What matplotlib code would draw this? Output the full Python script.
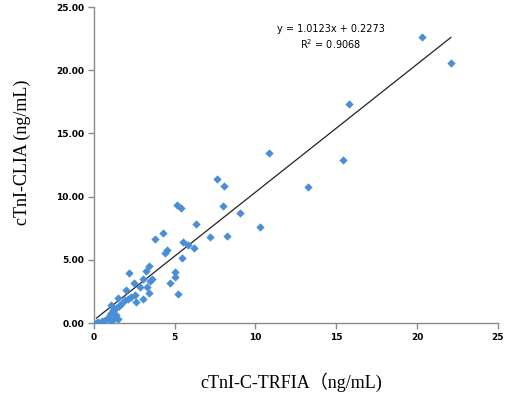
import matplotlib
matplotlib.use("Agg")
import matplotlib.pyplot as plt
import numpy as np

# cTnI values (ng/mL)
trfia = [10.83, 7.65, 8.07, 5.12, 5.42, 8.00, 9.03, 6.35, 4.25, 3.80,
         7.22, 8.25, 10.30, 5.49, 5.84, 6.19, 4.54, 4.41, 5.45, 3.42,
         3.22, 3.03, 3.63, 3.47, 2.19, 5.01, 5.05, 4.70, 2.50, 3.26,
         2.85, 1.96, 3.40, 5.22, 3.05, 2.64, 2.54, 2.33, 2.13, 1.92,
         1.51, 1.71, 1.57, 1.40, 1.09, 1.20, 1.09, 0.99, 0.89, 1.40,
         1.30, 1.51, 0.27, 0.48, 0.68, 1.09, 0.16, 20.34, 22.10, 15.78,
         15.43, 13.26]
clia = [13.47, 11.42, 10.84, 9.34, 9.07, 9.26, 8.73, 7.86, 7.12, 6.62,
        6.83, 6.91, 7.57, 6.38, 6.17, 5.96, 5.78, 5.56, 5.17, 4.51,
        4.14, 3.50, 3.45, 3.32, 3.93, 4.01, 3.66, 3.19, 3.14, 2.85,
        2.85, 2.61, 2.40, 2.29, 1.87, 1.69, 2.19, 2.03, 1.92, 1.82,
        1.95, 1.50, 1.34, 1.16, 1.42, 1.03, 0.77, 0.63, 0.37, 0.63,
        0.37, 0.29, 0.10, 0.18, 0.24, 0.18, 0.02, 22.60, 20.54, 17.35,
        12.87, 10.76]

slope = 1.0123
intercept = 0.2273
r2 = 0.9068

x_ticks = [0, 5, 10, 15, 20, 25]
y_ticks = [0, 5, 10, 15, 20, 25]

fig = plt.figure(figsize=(5.1, 3.93), dpi=100)
ax = fig.add_axes([0.184, 0.178, 0.792, 0.804])

ax.scatter(trfia, clia, marker="D", s=18, color="#4A8FD6", linewidths=0, zorder=3)

xs = np.array([min(trfia), max(trfia)])
ax.plot(xs, slope * xs + intercept, color="#222222", linewidth=0.9, zorder=2)

ax.text(14.67, 22.6, f"y = {slope}x + {intercept}\nR$^2$ = {r2}",
        ha="center", va="center", fontsize=7, linespacing=1.3,
        family="DejaVu Sans")

ax.set_xlim(0, 25)
ax.set_ylim(0, 25)
ax.set_xticks(x_ticks)
ax.set_yticks(y_ticks)
ax.set_xticklabels([str(t) for t in x_ticks])
ax.set_yticklabels([f"{t:.2f}" for t in y_ticks])
for lbl in ax.get_xticklabels() + ax.get_yticklabels():
    lbl.set_fontweight("bold")
    lbl.set_fontsize(6.5)

for side in ("top", "right"):
    ax.spines[side].set_visible(False)
for side in ("left", "bottom"):
    ax.spines[side].set_color("#8a8a8a")
    ax.spines[side].set_linewidth(1.0)
ax.tick_params(axis="both", length=4, width=1.0, color="#8a8a8a", pad=3)

label_fonts = ["Liberation Serif", "Noto Sans CJK SC"]
ax.set_ylabel("cTnI-CLIA (ng/mL)", fontsize=13, family=label_fonts,
              va="center")
ax.set_xlabel("cTnI-C-TRFIA（ng/mL)", fontsize=13, family=label_fonts,
              va="center")
ax.yaxis.set_label_coords(-0.178, 0.541)
ax.xaxis.set_label_coords(0.488, -0.187)

fig.savefig("out.png", dpi=100)
